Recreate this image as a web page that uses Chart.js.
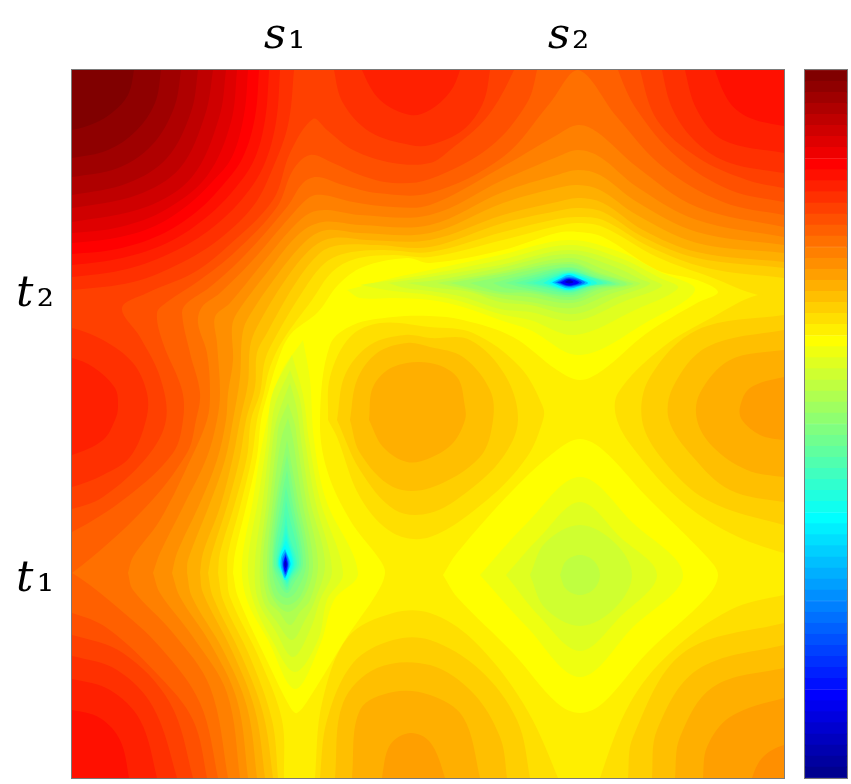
<!DOCTYPE html>
<html lang="en">
<head>
<meta charset="UTF-8">
<title>Contour map</title>
<script src="https://cdn.jsdelivr.net/npm/chart.js"></script>
<style>
    html, body { margin: 0; padding: 0; background: #fff; }
    #wrap { position: relative; width: 851px; height: 784px; overflow: hidden; }
    #mapChart { position: absolute; left: 0; top: 0; }
    #barChart { position: absolute; left: 804px; top: 69px; }
</style>
</head>
<body>
<div id="wrap">
    <canvas id="mapChart" width="851" height="784"></canvas>
    <canvas id="barChart" width="44" height="710"></canvas>
</div>
<script>
// axis labels
const xTicks = [283, 567];
const xTickLabels = ['\u{1D460}\u2081', '\u{1D460}\u2082'];
const yTicks = [293, 578];
const yTickLabels = ['\u{1D461}\u2082', '\u{1D461}\u2081'];

// colorbar levels, top to bottom
const barLevels = [64,63,62,61,60,59,58,57,56,55,54,53,52,51,50,49,48,47,46,45,44,43,42,41,40,39,38,37,36,35,34,33,
    32,31,30,29,28,27,26,25,24,23,22,21,20,19,18,17,16,15,14,13,12,11,10,9,8,7,6,5,4,3,2,1];

// every contour is [level, [x,y, x,y, ...]], painted in this order
const baseBand = [[52, [60,60, 800,60, 800,790, 60,790]]];

// region below a level, outer boundary
const lowBands = [
  [51, [60,509, 72,509, 103,497, 147,457, 166,420, 160,377, 140,337, 122,308, 147,293, 193,273, 227,247, 273,200, 290,153, 313,119, 327,130, 353,150, 393,163, 430,163, 450,150, 487,117, 514,70, 514,60, 640,60, 640,70, 657,120, 697,157, 747,180, 784,188, 800,190, 800,790, 193,790, 193,778, 170,703, 123,653, 72,635, 60,635]],
  [50, [60,532, 72,532, 127,497, 173,453, 183,420, 182,390, 163,343, 157,313, 167,302, 200,280, 235,252, 277,207, 293,170, 310,155, 333,163, 360,175, 393,183, 430,179, 490,147, 527,103, 537,70, 537,60, 618,60, 618,70, 637,110, 677,157, 730,190, 784,202, 800,204, 800,790, 207,790, 207,778, 193,720, 160,677, 107,628, 72,613, 60,613]],
  [49, [60,573, 72,573, 143,510, 187,453, 196,420, 200,393, 190,353, 182,313, 187,303, 210,287, 244,256, 287,207, 303,183, 317,177, 343,185, 377,193, 430,193, 503,157, 550,103, 578,70, 617,117, 663,167, 723,202, 784,215, 800,217, 800,790, 218,790, 218,778, 200,703, 160,647, 117,607, 72,573]],
  [48, [128,573, 133,557, 160,520, 187,467, 207,420, 210,393, 207,353, 198,323, 202,307, 220,293, 252,261, 290,217, 310,197, 323,195, 353,202, 393,207, 430,205, 497,170, 557,135, 578,125, 597,132, 637,167, 697,207, 784,227, 800,229, 800,790, 228,790, 228,778, 210,687, 173,633, 133,590]],
  [47, [153,573, 160,553, 183,507, 207,457, 217,420, 220,393, 217,343, 215,317, 230,303, 261,265, 293,227, 310,213, 327,210, 360,215, 430,215, 503,180, 557,157, 578,150, 600,157, 637,187, 697,220, 784,237, 800,239, 800,790, 240,790, 240,778, 227,693, 193,637, 160,593]],
  [46, [172,573, 177,553, 200,503, 217,460, 226,420, 228,393, 233,360, 232,327, 237,313, 269,270, 300,233, 323,222, 360,225, 430,225, 503,192, 557,175, 578,170, 600,175, 637,202, 697,232, 784,245, 800,247, 800,790, 248,790, 248,778, 237,700, 210,643, 180,597]],
  [45, [187,573, 188,560, 210,503, 225,460, 233,420, 240,377, 242,337, 247,320, 278,274, 307,240, 327,230, 360,233, 430,233, 503,203, 557,188, 578,185, 600,190, 637,215, 697,243, 784,253, 800,255, 800,790, 257,790, 257,778, 247,707, 223,650, 192,597]],
  [44, [200,573, 203,553, 220,507, 233,457, 240,420, 248,383, 250,347, 257,327, 286,279, 313,247, 333,238, 367,240, 430,240, 503,215, 557,202, 578,198, 603,203, 643,230, 697,252, 784,262, 800,264, 800,790, 265,790, 265,778, 255,710, 233,653, 203,593]],
  [43, [208,573, 212,553, 228,503, 240,457, 246,420, 255,387, 257,353, 267,333, 295,284, 320,253, 340,245, 377,245, 430,247, 503,223, 557,211, 578,208, 603,212, 643,237, 697,258, 784,268, 800,270, 800,790, 273,790, 273,778, 263,713, 242,657, 213,597]],
  [42, [218,573, 220,553, 235,503, 247,457, 251,420, 260,393, 265,360, 275,338, 303,291, 325,263, 347,253, 383,250, 430,252, 503,232, 557,219, 578,217, 603,220, 650,247, 707,268, 784,278, 800,280, 800,790, 278,790, 278,778, 272,720, 250,657, 223,600]],
  [41, [227,573, 228,553, 240,507, 252,457, 257,420, 264,393, 270,367, 283,340, 312,300, 332,272, 355,259, 393,255, 430,257, 503,240, 557,226, 578,223, 603,227, 657,257, 713,278, 758,295, 800,300, 800,790, 284,790, 284,778, 282,720, 260,660, 230,597]],
  [40, [233,573, 235,553, 246,507, 257,457, 261,420, 268,393, 277,363, 290,335, 318,312, 338,285, 363,267, 407,258, 430,263, 503,250, 557,233, 578,232, 603,237, 657,270, 697,280, 718,292, 697,303, 647,333, 603,370, 580,380, 557,370, 513,337, 463,320, 430,316, 393,317, 353,325, 330,345, 320,420, 327,470, 350,520, 380,560, 385,573, 377,593, 347,637, 310,697, 297,713, 290,707, 270,667, 238,597]]
];

// shallow basin at (s2, t1)
const basinRings = [
  [40, [443,575, 457,553, 513,490, 557,450, 580,439, 603,450, 647,497, 707,557, 718,575, 707,597, 647,653, 603,703, 580,713, 557,703, 513,653, 457,597]],
  [39, [480,575, 527,523, 580,477, 633,523, 683,575, 633,627, 580,677, 527,627]],
  [38, [506,575, 540,537, 580,502, 620,537, 657,575, 620,617, 580,651, 540,617]],
  [37, [530,575, 545,543, 580,525, 615,543, 632,575, 615,608, 580,626, 545,608]],
  [36, [560,575, 566,561, 580,555, 594,561, 600,575, 594,589, 580,595, 566,589]]
];

// deep minimum at (s1, t1)
const valleyS1 = [
  [39, [303,340, 280,375, 263,440, 253,500, 242,563, 247,600, 268,640, 295,689, 320,645, 334,600, 358,573, 326,500, 314,440, 310,380]],
  [38, [292,355, 272,395, 267,440, 258,500, 248,563, 253,600, 272,640, 295,672, 318,640, 327,600, 343,573, 320,500, 309,440, 303,395]],
  [37, [290,370, 275,405, 270,440, 263,500, 255,563, 258,600, 275,630, 293,657, 310,630, 320,600, 332,570, 315,500, 305,440, 300,400]],
  [36, [290,383, 278,415, 273,440, 267,500, 260,563, 263,600, 277,622, 292,640, 305,620, 315,600, 325,563, 310,500, 301,440, 297,410]],
  [35, [288,403, 279,425, 277,440, 270,500, 263,563, 268,600, 279,612, 290,625, 300,612, 310,600, 318,563, 306,500, 297,440, 295,425]],
  [34, [288,418, 281,440, 273,500, 267,563, 271,595, 288,612, 305,595, 313,563, 302,500, 293,440]],
  [33, [287,440, 276,500, 269,563, 274,595, 287,605, 301,595, 309,563, 298,500]],
  [32, [287,455, 278,500, 272,563, 277,590, 287,598, 297,590, 306,563, 295,500]],
  [31, [287,470, 281,500, 273,563, 280,585, 287,593, 293,585, 303,563, 292,500]],
  [30, [286,487, 283,505, 274,563, 282,582, 287,590, 291,582, 301,563, 290,505]],
  [29, [286,500, 284,515, 276,563, 283,580, 287,587, 290,580, 299,563, 289,515]],
  [28, [286,515, 283,535, 277,563, 284,578, 287,584, 290,578, 297,563, 289,535]],
  [27, [286,525, 283,540, 278,563, 284,576, 287,582, 290,576, 295.5,563, 289,540]],
  [26, [286,533, 283,545, 278,563, 283,575, 286,580, 291,573, 294,563, 289,545]],
  [25, [286,540, 282,550, 279,563, 282,573, 286,580, 290,573, 293,563, 290,550]],
  [24, [285,545, 281,552, 279,563, 282,572, 285,580, 289,572, 292,563, 289,552]],
  [20, [285,549, 281.5,556, 280.5,564, 282,571, 285,578, 288,571, 290.5,564, 288,556]],
  [16, [285.5,552, 282.5,558, 282,564, 283,570, 285.5,576, 288,570, 289,564, 288,558]],
  [12, [285.5,554, 283,564, 285.5,574, 288,564]],
  [8, [285.5,556, 283.5,564, 285.5,572, 287.5,564]],
  [4, [285.5,560, 284.3,564, 285.5,568, 286.7,564]]
];

// deep minimum at (s2, t2)
const valleyS2 = [
  [39, [347,290, 393,278, 430,270, 500,255, 569,240, 620,252, 660,272, 695,290, 647,322, 580,355, 530,330, 500,320, 463,307, 430,300, 393,298, 360,298]],
  [38, [360,285, 430,274, 500,260, 569,245, 620,258, 660,278, 678,288, 635,310, 575,335, 530,320, 500,314, 463,302, 430,295, 393,291]],
  [37, [388,283, 430,277, 500,265, 569,250, 620,263, 650,279, 662,286, 625,301, 575,321, 530,312, 500,309, 463,297, 430,291, 405,288]],
  [36, [407,283, 437,280, 500,268, 569,254, 615,267, 640,279, 650,284, 617,297, 575,314, 530,305, 500,302, 470,292, 430,287]],
  [35, [437,283, 500,272, 569,258, 605,270, 630,280, 640,284, 610,294, 572,308, 530,302, 500,298, 470,290]],
  [34, [450,283, 500,274, 569,262, 600,273, 625,281, 633,284, 605,291, 572,303, 530,297, 500,294, 470,288]],
  [33, [470,283, 500,277, 569,264, 598,274, 627,284, 600,289, 572,300, 530,293, 500,292]],
  [32, [493,283, 520,276, 569,267, 597,276, 620,284, 597,288, 571,297, 530,291, 505,288]],
  [31, [505,283, 530,276, 569,268, 595,277, 616,284, 595,287, 570,295, 530,289]],
  [30, [515,283, 540,276, 569,270, 592,277, 612,283, 592,286, 570,293, 540,288]],
  [29, [525,283, 545,277, 569,271, 590,277, 607,283, 590,286, 570,292, 545,287]],
  [28, [533,283, 550,277, 569,272, 590,277, 603,283, 590,286, 569,291, 550,287]],
  [26, [543,283, 555,277, 569,273, 587,278, 597,283, 587,286, 569,290, 555,287]],
  [24, [549,283, 558,277.5, 569,273.5, 583,278, 591,283, 583,286, 569,290, 558,287]],
  [20, [552,282.5, 560,278.5, 569,275, 580,279, 588,283, 580,286, 569,288.5, 560,286]],
  [16, [555,282.5, 569,277, 585,282.5, 569,287]],
  [12, [557,282.5, 569,278, 582,282.5, 569,286]],
  [8, [560,282.5, 569,279, 579,282.5, 569,285.5]],
  [4, [564.5,282, 569,280, 573.5,282, 569,283.5]]
];

// hills inside the yellow and orange area
const centerHill = [
  [42, [328,420, 330,377, 350,337, 380,323, 430,327, 473,333, 520,367, 543,407, 543,420, 527,457, 487,500, 430,537, 393,533, 360,497, 337,437]],
  [43, [337,420, 345,375, 370,345, 405,335, 430,338, 470,340, 505,375, 518,420, 503,457, 467,492, 430,513, 395,510, 360,470]],
  [44, [350,420, 357,380, 377,353, 407,343, 430,347, 463,357, 490,390, 493,420, 480,457, 430,488, 393,487, 360,453]],
  [45, [369,420, 373,387, 393,367, 430,363, 457,377, 465,407, 465,420, 453,443, 430,458, 407,462, 383,447]]
];
const rightHill = [
  [42, [800,295, 758,295, 713,317, 663,347, 618,393, 617,420, 637,453, 680,500, 730,533, 784,553, 800,553]],
  [43, [800,315, 784,315, 697,330, 650,377, 642,420, 663,460, 707,500, 784,525, 800,525]],
  [44, [800,330, 784,330, 707,347, 673,387, 669,420, 693,457, 730,490, 784,502, 800,502]],
  [45, [800,350, 784,350, 730,360, 700,393, 697,420, 713,447, 747,470, 784,477, 800,477]],
  [46, [800,377, 784,377, 750,388, 740,407, 742,420, 760,435, 784,440, 800,440]]
];
const bottomHill = [
  [42, [315,790, 315,778, 322,703, 348,637, 393,613, 430,613, 473,640, 523,703, 558,778, 558,790]],
  [43, [320,790, 320,778, 327,720, 353,663, 393,640, 430,640, 480,670, 517,720, 530,778, 530,790]],
  [44, [335,790, 335,778, 343,703, 377,668, 430,665, 473,693, 500,737, 507,778, 507,790]],
  [45, [352,790, 352,778, 360,710, 393,692, 430,695, 463,717, 480,778, 480,790]],
  [46, [382,790, 382,778, 390,745, 410,733, 430,742, 445,778, 445,790]]
];
const cornerBR = [
  [42, [800,790, 800,595, 784,595, 730,610, 670,653, 630,703, 600,778, 600,790]],
  [43, [800,790, 800,623, 784,623, 683,653, 633,737, 628,778, 628,790]],
  [44, [800,790, 800,645, 784,645, 697,670, 657,730, 652,778, 652,790]],
  [45, [800,790, 800,668, 784,668, 713,687, 680,737, 675,778, 675,790]],
  [46, [800,790, 800,698, 784,698, 730,717, 707,747, 703,778, 703,790]],
  [47, [800,790, 800,745, 784,745, 763,757, 752,778, 752,790]]
];

// red hills along the top and left edge
const cornerTL = [
  [53, [60,60, 294,60, 294,70, 288,125, 272,170, 254,205, 222,237, 183,262, 133,282, 72,290, 60,290]],
  [54, [60,60, 280,60, 280,70, 276,122, 264,165, 243,198, 212,228, 175,251, 127,269, 72,277, 60,277]],
  [55, [60,60, 269,60, 269,70, 265,120, 254,160, 232,192, 203,220, 167,243, 122,258, 72,265, 60,265]],
  [56, [60,60, 259,60, 259,70, 255,117, 243,157, 223,185, 195,213, 160,235, 117,249, 72,254, 60,254]],
  [57, [60,60, 248,60, 248,70, 244,115, 232,157, 212,182, 188,205, 155,226, 115,238, 72,243, 60,243]],
  [58, [60,60, 237,60, 237,70, 231,122, 207,176, 165,210, 120,227, 72,233, 60,233]],
  [59, [60,60, 226,60, 226,70, 219,118, 192,177, 146,207, 72,222, 60,222]],
  [60, [60,60, 213,60, 213,70, 205,115, 180,168, 137,195, 72,208, 60,208]],
  [61, [60,60, 198,60, 198,70, 191,112, 167,158, 128,183, 72,195, 60,195]],
  [62, [60,60, 181,60, 181,70, 174,108, 152,145, 118,168, 72,177, 60,177]],
  [63, [60,60, 161,60, 161,70, 155,103, 136,131, 108,150, 72,158, 60,158]],
  [64, [60,60, 134,60, 134,70, 128,95, 113,112, 95,123, 72,130, 60,130]]
];
const topHill = [
  [53, [334,60, 334,70, 343,103, 370,132, 410,145, 430,145, 463,130, 483,103, 490,70, 490,60]],
  [54, [362,60, 362,70, 380,100, 410,115, 430,110, 450,92, 460,70, 460,60]]
];
const cornerTR = [
  [53, [800,60, 662,60, 662,70, 673,110, 697,143, 730,163, 784,173, 800,175]],
  [54, [800,60, 685,60, 685,70, 697,110, 723,140, 784,153, 800,155]],
  [55, [800,60, 715,60, 715,70, 730,103, 750,118, 784,126, 800,128]]
];
const leftHill = [
  [53, [60,328, 72,328, 103,340, 133,363, 147,393, 146,420, 130,457, 103,475, 72,487, 60,487]],
  [54, [60,358, 72,358, 93,367, 115,388, 118,407, 115,420, 103,440, 72,455, 60,455]]
];
const cornerBL = [
  [53, [60,656, 72,656, 117,670, 153,707, 177,778, 177,790, 60,790]],
  [54, [60,679, 72,679, 110,690, 140,720, 157,778, 157,790, 60,790]],
  [55, [60,710, 72,710, 100,718, 120,740, 129,778, 129,790, 60,790]]
];

// matlab style jet, level 1..64
function jet(level) {
    const clamp = v => Math.max(0, Math.min(1, v));
    const r = level > 56 ? 1 - (level - 56) / 16 : clamp((level - 24) / 16);
    const g = level > 40 ? clamp(1 - (level - 40) / 16) : clamp((level - 8) / 16);
    const b = level > 8 ? clamp(1 - (level - 24) / 16) : 0.5 + level / 16;
    return `rgb(${Math.round(r * 255)},${Math.round(g * 255)},${Math.round(b * 255)})`;
}

const paintOrder = [].concat(baseBand, lowBands, basinRings, valleyS1, valleyS2, centerHill, rightHill,
    bottomHill, cornerBR, cornerTL, topHill, cornerTR, leftHill, cornerBL);

// chart.js draws the last dataset first, so order has to run backwards
const datasets = paintOrder.map(([level, path], i) => {
    const data = [];
    for (let k = 0; k < path.length; k += 2) data.push({ x: path[k], y: path[k + 1] });
    data.push({ x: path[0], y: path[1] });
    return {
        data,
        showLine: true,
        fill: 'shape',
        tension: 0.35,
        borderWidth: 0,
        pointRadius: 0,
        backgroundColor: jet(level),
        order: paintOrder.length - i
    };
});

const frame = {
    id: 'frame',
    afterDraw(chart) {
        const { ctx, chartArea: a } = chart;
        ctx.save();
        ctx.strokeStyle = '#7a7a7a';
        ctx.lineWidth = 1;
        ctx.strokeRect(a.left - 0.5, a.top - 0.5, a.right - a.left + 1, a.bottom - a.top + 1);
        ctx.restore();
    }
};

const labelFont = { family: "'DejaVu Math TeX Gyre', 'DejaVu Serif', serif", size: 43 };

new Chart(document.getElementById('mapChart'), {
    type: 'scatter',
    data: { datasets },
    options: {
        responsive: false,
        animation: false,
        events: [],
        layout: { padding: { right: 67, bottom: 6 } },
        plugins: { legend: { display: false }, tooltip: { enabled: false } },
        scales: {
            x: {
                position: 'top', min: 72, max: 784,
                grid: { display: false }, border: { display: false },
                // labels must not eat into the plot area
                afterFit: s => { s.height = 70; s.paddingLeft = 0; s.paddingRight = 0; },
                afterBuildTicks: s => { s.ticks = xTicks.map(value => ({ value })); },
                ticks: {
                    autoSkip: false, maxRotation: 0, padding: 1, color: '#000', font: labelFont,
                    callback: v => xTickLabels[xTicks.indexOf(v)]
                }
            },
            y: {
                reverse: true, min: 70, max: 778,
                grid: { display: false }, border: { display: false },
                afterFit: s => { s.width = 72; s.paddingTop = 0; s.paddingBottom = 0; },
                afterBuildTicks: s => { s.ticks = yTicks.map(value => ({ value })); },
                ticks: {
                    autoSkip: false, padding: 10, color: '#000', font: labelFont,
                    callback: v => yTickLabels[yTicks.indexOf(v)]
                }
            }
        }
    },
    plugins: [frame]
});

new Chart(document.getElementById('barChart'), {
    type: 'bar',
    data: {
        labels: barLevels,
        datasets: [{
            data: barLevels.map(() => 1),
            backgroundColor: barLevels.map(jet),
            borderColor: barLevels.map(jet),
            borderWidth: 0.5,
            borderSkipped: false,
            barPercentage: 1,
            categoryPercentage: 1
        }]
    },
    options: {
        indexAxis: 'y',
        responsive: false,
        animation: false,
        events: [],
        layout: { padding: 1 },
        plugins: { legend: { display: false }, tooltip: { enabled: false } },
        scales: {
            x: { display: false, min: 0, max: 1 },
            y: { display: false }
        }
    },
    plugins: [frame]
});
</script>
</body>
</html>
